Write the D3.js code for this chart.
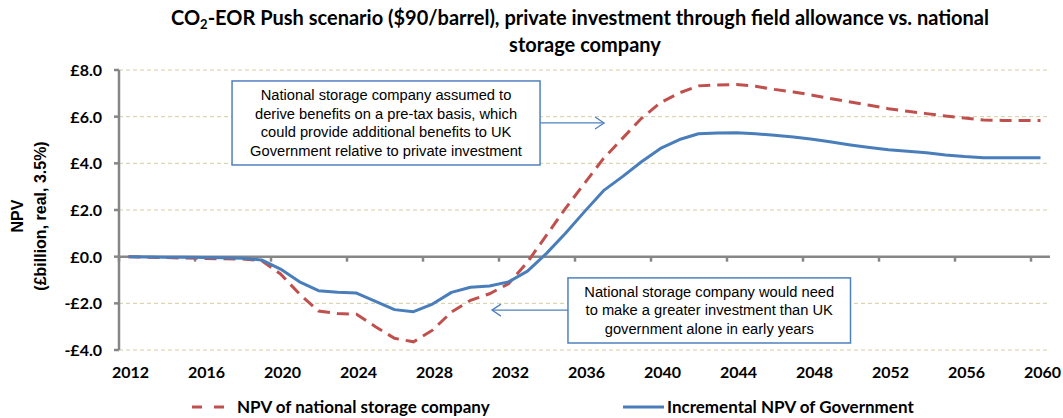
<!DOCTYPE html>
<html>
<head>
<meta charset="utf-8">
<script src="https://cdn.jsdelivr.net/npm/d3@7"></script>
<style>
  body { margin: 0; background: #fff; }
  svg { display: block; }
  .grid line { stroke: #d3cda2; stroke-width: 1; stroke-dasharray: 4,3; }
  .axisline { stroke: #868686; stroke-width: 2.5; }
  .calib { font-family: Lato, "Open Sans", sans-serif; font-weight: bold; fill: #000; }
  .note { font-family: "Liberation Sans", Arial, sans-serif; font-size: 14.7px; fill: #000; }
  .notebox { fill: #fff; stroke: #4f81bd; stroke-width: 1.5; }
  .arrow { stroke: #4f81bd; stroke-width: 1.3; fill: none; }
</style>
</head>
<body>
<script>
// categories (years) and series values
let years = [2012, 2013, 2014, 2015, 2016, 2017, 2018, 2019, 2020, 2021,
             2022, 2023, 2024, 2025, 2026, 2027, 2028, 2029, 2030, 2031,
             2032, 2033, 2034, 2035, 2036, 2037, 2038, 2039, 2040, 2041,
             2042, 2043, 2044, 2045, 2046, 2047, 2048, 2049, 2050, 2051,
             2052, 2053, 2054, 2055, 2056, 2057, 2058, 2059, 2060];

let nscValues = [0, -0.02, -0.04, -0.06, -0.08, -0.09, -0.1, -0.17,
                 -0.74, -1.6, -2.33, -2.44, -2.47, -3.0, -3.5, -3.65, -3.15, -2.37,
                 -1.87, -1.59, -1.16, -0.23, 0.92, 2.07, 3.14, 4.21, 5.07, 5.93,
                 6.6, 7.02, 7.32, 7.36, 7.38, 7.3, 7.17, 7.06, 6.92, 6.77,
                 6.63, 6.49, 6.34, 6.23, 6.13, 6.03, 5.94, 5.86, 5.84, 5.84, 5.84];

let govValues = [0, -0.01, -0.02, -0.03, -0.04, -0.05, -0.07, -0.14,
                 -0.53, -1.08, -1.46, -1.53, -1.56, -1.92, -2.27, -2.36, -2.03, -1.53,
                 -1.31, -1.26, -1.08, -0.62, 0.14, 1.0, 1.93, 2.83, 3.43, 4.07,
                 4.64, 5.02, 5.27, 5.3, 5.31, 5.27, 5.2, 5.13, 5.03, 4.91,
                 4.79, 4.68, 4.58, 4.52, 4.45, 4.36, 4.29, 4.24, 4.24, 4.24, 4.24];

let yTicks = [-4, -2, 0, 2, 4, 6, 8];
let xLabels = [2012, 2016, 2020, 2024, 2028, 2032, 2036, 2040, 2044, 2048, 2052, 2056, 2060];

let seriesNames = ["NPV of national storage company", "Incremental NPV of Government"];

let note1 = ["National storage company assumed to",
             "derive benefits on a pre-tax basis, which",
             "could provide additional benefits to UK",
             "Government relative to private investment"];
let note2 = ["National storage company would need",
             "to make a greater investment than UK",
             "government alone in early years"];

function createChart(){
    let width = 1063, height = 418;
    let plot = { left: 119, right: 1050, top: 70, bottom: 350 };

    let svg = d3.select("body").append("svg")
      .attr("width", width)
      .attr("height", height);

    let x = d3.scaleBand()
      .domain(years)
      .range([plot.left, plot.right]);
    let bw = x.bandwidth();
    let xc = function(yr) { return x(yr) + bw / 2; };
    // continuous year scale for placing the notes
    let xl = d3.scaleLinear()
      .domain([2012, 2060])
      .range([xc(2012), xc(2060)]);

    let y = d3.scaleLinear()
      .domain([-4, 8])
      .range([plot.bottom, plot.top]);

    // title
    let title = svg.append("text")
      .attr("class", "calib")
      .attr("text-anchor", "middle")
      .style("font-size", "20px");
    let t1 = title.append("tspan").attr("x", 580).attr("y", 25);
    t1.append("tspan").text("CO");
    t1.append("tspan").attr("dy", 4).style("font-size", "13px").text("2");
    t1.append("tspan").attr("dy", -4).text("-EOR Push scenario ($90/barrel), private investment through field allowance vs. national");
    title.append("tspan").attr("x", 585).attr("y", 52).text("storage company");

    // gridlines
    svg.append("g").attr("class", "grid")
      .selectAll("line")
      .data(yTicks.filter(function(d) { return d !== 0; }))
      .enter().append("line")
      .attr("x1", plot.left).attr("x2", plot.right)
      .attr("y1", function(d) { return y(d); })
      .attr("y2", function(d) { return y(d); });

    // y axis
    svg.append("line").attr("class", "axisline")
      .attr("x1", plot.left).attr("x2", plot.left)
      .attr("y1", plot.top).attr("y2", plot.bottom);
    svg.append("g").selectAll("line")
      .data(yTicks)
      .enter().append("line")
      .attr("class", "axisline")
      .attr("x1", plot.left - 5).attr("x2", plot.left)
      .attr("y1", function(d) { return y(d); })
      .attr("y2", function(d) { return y(d); });
    svg.append("g").selectAll("text")
      .data(yTicks)
      .enter().append("text")
      .attr("class", "calib")
      .style("font-size", "16px")
      .attr("text-anchor", "end")
      .attr("x", 102)
      .attr("y", function(d) { return y(d) + 6; })
      .text(function(d) { return (d < 0 ? "-£" : "£") + Math.abs(d).toFixed(1); });

    // y axis title
    let yt = svg.append("text")
      .attr("transform", "translate(0,216) rotate(-90)")
      .attr("text-anchor", "middle")
      .style("font-family", "'Liberation Sans', Arial, sans-serif")
      .style("font-weight", "bold")
      .style("font-size", "16px");
    yt.append("tspan").attr("x", 0).attr("y", 23).text("NPV");
    yt.append("tspan").attr("x", 0).attr("y", 46).text("(£billion, real, 3.5%)");

    // x axis on zero line, ticks every 4 categories
    svg.append("line").attr("class", "axisline")
      .attr("x1", plot.left).attr("x2", plot.right)
      .attr("y1", y(0)).attr("y2", y(0));
    let tickYears = years.filter(function(d, i) { return i % 4 === 0; });
    svg.append("g").selectAll("line")
      .data(tickYears)
      .enter().append("line")
      .attr("class", "axisline")
      .attr("x1", function(d) { return x(d); })
      .attr("x2", function(d) { return x(d); })
      .attr("y1", y(0)).attr("y2", y(0) + 5);
    svg.append("g").selectAll("text")
      .data(xLabels)
      .enter().append("text")
      .attr("class", "calib")
      .style("font-size", "16px")
      .attr("text-anchor", "middle")
      .attr("x", function(d) { return xc(d) + 2; })
      .attr("y", 378)
      .text(function(d) { return d; });

    // lines
    let line = d3.line()
      .x(function(d, i) { return xc(years[i]); })
      .y(function(d) { return y(d); });

    svg.append("path")
      .datum(nscValues)
      .attr("d", line)
      .attr("fill", "none")
      .attr("stroke", "#c0504d")
      .attr("stroke-width", 3)
      .attr("stroke-dasharray", "12,7");

    svg.append("path")
      .datum(govValues)
      .attr("d", line)
      .attr("fill", "none")
      .attr("stroke", "#4a7ebb")
      .attr("stroke-width", 3)
      .attr("stroke-linejoin", "round");

    // note boxes with arrows
    function note(lines, x0, x1, v0, v1, lineGap){
      svg.append("rect").attr("class", "notebox")
        .attr("x", xl(x0)).attr("y", y(v0))
        .attr("width", xl(x1) - xl(x0))
        .attr("height", y(v1) - y(v0));
      let cx = (xl(x0) + xl(x1)) / 2;
      let top = y(v0) + (y(v1) - y(v0) - lineGap * lines.length) / 2;
      svg.append("g").selectAll("text")
        .data(lines)
        .enter().append("text")
        .attr("class", "note")
        .attr("text-anchor", "middle")
        .attr("x", cx)
        .attr("y", function(d, i) { return top + lineGap * i + lineGap / 2 + 5; })
        .text(function(d) { return d; });
    }
    function arrow(xa, xb, v){
      let yy = y(v), xs = xl(xa), xe = xl(xb);
      let dir = xe > xs ? 1 : -1;
      svg.append("line").attr("class", "arrow")
        .attr("x1", xs).attr("x2", xe).attr("y1", yy).attr("y2", yy);
      svg.append("path").attr("class", "arrow")
        .attr("d", "M" + (xe - dir * 9) + "," + (yy - 6) + "L" + xe + "," + yy + "L" + (xe - dir * 9) + "," + (yy + 6));
    }

    note(note1, 2017.45, 2033.66, 7.53, 3.93, 18.8);
    arrow(2033.66, 2037.03, 5.73);
    note(note2, 2035.13, 2050.0, -0.91, -3.7, 18.5);
    arrow(2035.13, 2031.13, -2.29);

    // legend
    let lg = svg.append("g");
    lg.append("line")
      .attr("x1", 192).attr("x2", 224).attr("y1", 407).attr("y2", 407)
      .attr("stroke", "#c0504d").attr("stroke-width", 3)
      .attr("stroke-dasharray", "10,12");
    lg.append("text").attr("class", "calib").style("font-size", "17px")
      .attr("x", 237).attr("y", 413).text(seriesNames[0]);
    lg.append("line")
      .attr("x1", 623).attr("x2", 664).attr("y1", 407).attr("y2", 407)
      .attr("stroke", "#4a7ebb").attr("stroke-width", 3);
    lg.append("text").attr("class", "calib").style("font-size", "17px")
      .attr("x", 667).attr("y", 413).text(seriesNames[1]);
}

createChart();
</script>
</body>
</html>
